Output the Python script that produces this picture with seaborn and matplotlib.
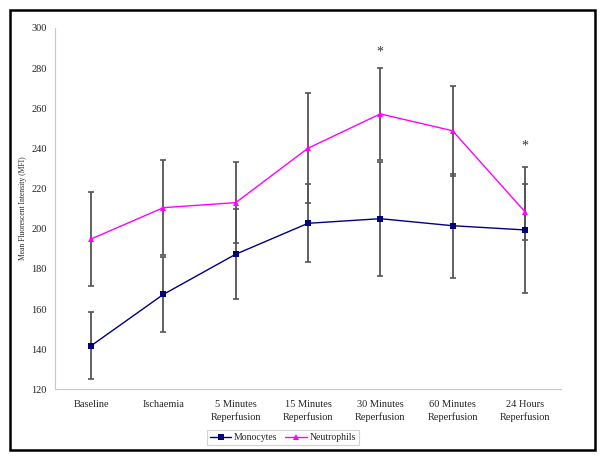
import matplotlib
matplotlib.use("Agg")
import matplotlib.pyplot as plt
import seaborn as sns
import numpy as np
import pandas as pd
from matplotlib.patches import Rectangle

categories = ["Baseline", "Ischaemia", "5 Minutes\nReperfusion", "15 Minutes\nReperfusion",
              "30 Minutes\nReperfusion", "60 Minutes\nReperfusion", "24 Hours\nReperfusion"]
monocytes = [141.7, 167.3, 187.3, 202.7, 205.0, 201.5, 199.4]
monocytes_err = [16.7, 18.6, 22.3, 19.4, 28.4, 25.9, 31.5]
neutrophils = [194.9, 210.5, 213.0, 240.1, 257.2, 248.8, 208.5]
neutrophils_err = [23.6, 23.6, 20.3, 27.4, 23.0, 22.3, 14.0]
star_positions = [4, 6]
star_values = [288, 241]

sns.set_style("white")
plt.rcParams['font.family'] = ['Liberation Serif', 'DejaVu Serif']

fig = plt.figure(figsize=(6, 4.62), dpi=100)
ax = fig.add_axes([55/600, 1-389.3/462, (561-55)/600, (389.3-28)/462])

x = np.arange(len(categories))
df = pd.DataFrame({
    "x": np.concatenate([x, x]),
    "value": monocytes + neutrophils,
    "series": ["Monocytes"] * len(x) + ["Neutrophils"] * len(x),
})

ax.errorbar(x, monocytes, yerr=monocytes_err, fmt="none", ecolor="#555555",
            elinewidth=1.3, capsize=2.5, capthick=1.2, zorder=1)
ax.errorbar(x, neutrophils, yerr=neutrophils_err, fmt="none", ecolor="#555555",
            elinewidth=1.3, capsize=2.5, capthick=1.2, zorder=1)

sns.lineplot(data=df, x="x", y="value", hue="series", style="series",
             palette={"Monocytes": "#000080", "Neutrophils": "#FF00FF"},
             markers={"Monocytes": "s", "Neutrophils": "^"},
             dashes=False, linewidth=1, markersize=5, markeredgewidth=0,
             ax=ax, zorder=3)

for p, v in zip(star_positions, star_values):
    ax.text(p, v, "*", ha="center", va="center", fontsize=10, color="#333333")

ax.set_xlim(-0.5, len(categories) - 0.5)
ax.set_ylim(120, 300)
ax.set_yticks(np.arange(120, 301, 20))
ax.set_xticks(x)
ax.set_xticklabels(categories, fontsize=7.5, linespacing=1.4)
ax.set_xticks(np.arange(-0.5, len(categories)), minor=True)
ax.tick_params(axis="x", which="major", length=0, pad=8)
ax.tick_params(axis="x", which="minor", length=3, color="#c0c0c0", direction="inout")
ax.tick_params(axis="y", labelsize=7.5, length=3, color="#c0c0c0", direction="out", pad=3)
ax.set_xlabel("")
ax.set_ylabel("Mean Fluorescent Intensity (MFI)", fontsize=5.5, labelpad=3)

for s in ["top", "right"]:
    ax.spines[s].set_visible(False)
for s in ["left", "bottom"]:
    ax.spines[s].set_color("#c8c8c8")
    ax.spines[s].set_linewidth(0.8)

leg = ax.legend(loc="center", bbox_to_anchor=(283/600, 1-437.5/462),
                bbox_transform=fig.transFigure, ncol=2, fontsize=7,
                frameon=True, fancybox=False, handlelength=2.2, handletextpad=0.3,
                columnspacing=0.8, borderpad=0.3, title=None)
leg.get_frame().set_edgecolor("#c8c8c8")
leg.get_frame().set_linewidth(0.8)

fig.patches.append(Rectangle((10/600, 1-450/462), 585/600, 440/462, transform=fig.transFigure,
                             fill=False, edgecolor="black", linewidth=1.8))

fig.savefig("out.png", dpi=100)
